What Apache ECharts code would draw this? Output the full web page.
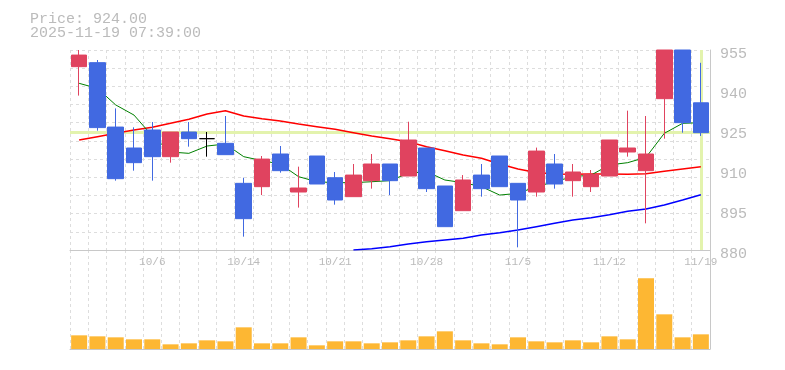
<!DOCTYPE html>
<html><head><meta charset="utf-8">
<script src="https://cdn.jsdelivr.net/npm/echarts@6/dist/echarts.min.js"></script>
<style>html,body{margin:0;padding:0;background:#fff}#c{width:785px;height:370px}</style>
</head><body><div id="c"></div>
<script>
const dates = ['9/30','10/1','10/2','10/3','10/6','10/7','10/8','10/9','10/10','10/14','10/15','10/16','10/17','10/20','10/21','10/22','10/23','10/24','10/27','10/28','10/29','10/30','10/31','11/4','11/5','11/6','11/7','11/10','11/11','11/12','11/13','11/14','11/17','11/18','11/19'];
const opens  = [948.75,950.25,926.1,918.25,925,915,924.25,921.75,920,905,903.75,916,901.75,915.25,907.1,900,906,912.25,907.75,918.25,904,894.75,908.1,915.25,905,901.75,912.25,906,903.75,907.75,916.75,909.75,936.75,955,935.2];
const closes = [953.1,925.9,906.75,912.75,915,924.25,921.75,921.75,915.75,891.75,914.1,909.75,903.25,904.75,898.75,908.1,912.25,906,921.25,903,888.75,906.25,903,903.75,898.75,917.1,904.75,909.25,908.4,921.25,918.25,916,955,927.75,924];
const lows   = [937.9,924.75,906,909.75,906,912.75,918.75,915,915.75,885,900.6,909,895.9,904.75,897,900,903,900.6,907.75,901.75,888.75,894.75,900,903.75,881,900,903,900,901.75,907.75,915,890,921.75,924,922.75];
const highs  = [955,951.25,933.1,926,928,924.25,928,924.25,930.25,907.1,915.25,919,911.25,915.25,909.25,912.25,916,912.25,928.1,918.25,904,908.1,912.25,915.25,905,918.4,916,912.25,910,921.25,932.25,930.25,955,955,950.2];
const ma5  = [942.5,940.6,934.4,930.6,922.75,916.75,916.25,919,919.75,915,913.5,912.25,907.5,905.6,905.25,905.25,905.6,906,908.75,909.4,906.25,905.25,903.75,900.6,901.25,903.75,905.6,907.5,908.1,911.9,912.75,914.75,923.75,927.5,927.75];
const ma25 = [921.25,922.5,923.75,925,926,927.5,929,931,932.25,930.25,929.25,928.4,927.25,926.25,925.25,924,922.75,921.75,920.6,918.75,917.25,915.6,914.4,912.25,910.4,909.1,908.5,908.4,908.5,908.5,908.4,908.6,909.5,910.4,911.25];
const ma75 = [null,null,null,null,null,null,null,null,null,null,null,null,null,null,null,880,880.5,881.25,882.25,883.1,883.75,884.4,885.6,886.5,887.5,888.75,890,891.25,892.1,893.25,894.5,895.4,896.9,898.75,900.75];
const volumes = [41,38,35,29,29,14,17,26,23,65,17,17,35,11,23,23,17,20,26,38,53,26,17,14,35,23,20,26,20,38,29,212,104,35,44];
const yTicks = [880,895,910,925,940,955];
const lastPrice = 924;
const titleLines = ['Price: 924.00','2025-11-19 07:39:00'];

const candleData = opens.map((o,i)=>[o, closes[i], lows[i], highs[i]]);
const FONT = '"Liberation Mono", "DejaVu Sans Mono", monospace';
const AX = '#c8c8c8', GRIDC = '#dddddd', TXT = '#bbbbbb';
const dash = {show:true, interval:0, lineStyle:{color:GRIDC, type:[3,3], width:1}};

const chart = echarts.init(document.getElementById('c'), null, {renderer:'canvas'});
chart.setOption({
  animation:false,
  backgroundColor:'#fff',
  graphic:[
    {type:'text', style:{x:30, y:19, text:titleLines[0], fill:TXT, font:'15px '+FONT, verticalAlign:'middle'}},
    {type:'text', style:{x:30, y:33, text:titleLines[1], fill:TXT, font:'15px '+FONT, verticalAlign:'middle'}}
  ],
  grid:[
    {left:70, right:75, top:50, height:200},
    {left:70, right:75, top:250, height:99}
  ],
  xAxis:[
    {type:'category', gridIndex:0, data:dates, boundaryGap:true,
     axisLine:{show:true, onZero:false, lineStyle:{color:AX}}, axisTick:{show:false},
     axisLabel:{interval:(i)=> (i-4)%5===0, color:TXT, fontFamily:FONT, fontSize:11, margin:7},
     splitLine:dash},
    {type:'category', gridIndex:1, data:dates, boundaryGap:true,
     axisLine:{show:true, onZero:false, lineStyle:{color:AX}}, axisTick:{show:false},
     axisLabel:{show:false}, splitLine:dash}
  ],
  yAxis:[
    {type:'value', gridIndex:0, position:'right', min:880, max:955,
     axisLine:{show:true, onZero:false, lineStyle:{color:AX}}, axisTick:{show:false}, splitLine:{show:false},
     axisLabel:{customValues:yTicks, color:TXT, fontFamily:FONT, fontSize:15, margin:10, verticalAlign:'top', lineHeight:15, padding:[-3,0,0,0]}},
    {type:'value', gridIndex:0, position:'left', min:0, max:11, interval:1,
     axisLine:{show:false}, axisTick:{show:false}, axisLabel:{show:false},
     splitLine:{show:true, lineStyle:{color:GRIDC, type:[3,3], width:1}}},
    {type:'value', gridIndex:1, position:'right', min:0, max:297,
     axisLine:{show:true, onZero:false, lineStyle:{color:AX}}, axisTick:{show:false},
     axisLabel:{show:false}, splitLine:{show:false}}
  ],
  series:[
    {name:'MA25', type:'line', xAxisIndex:0, yAxisIndex:0, data:ma25, symbol:'none', z:1,
     lineStyle:{color:'#ff0000', width:1.5}, silent:true,
     markLine:{z:0, silent:true, symbol:['none','none'], label:{show:false},
       lineStyle:{color:'#e3f3ad', width:3, type:'solid'},
       data:[{yAxis:lastPrice},{xAxis:dates[dates.length-1]}]}},
    {name:'MA75', type:'line', xAxisIndex:0, yAxisIndex:0, data:ma75, symbol:'none', z:1,
     lineStyle:{color:'#0000ff', width:1.5}, silent:true},
    {name:'MA5', type:'line', xAxisIndex:0, yAxisIndex:0, data:ma5, symbol:'none', z:1,
     lineStyle:{color:'#008000', width:1}, silent:true},
    {name:'Price', type:'candlestick', xAxisIndex:0, yAxisIndex:0, data:candleData, barWidth:16, z:3,
     itemStyle:{color:'#e0435f', color0:'#4169e1', borderColor:'#e0435f', borderColor0:'#4169e1', borderColorDoji:'#000000', borderWidth:1}},
    {name:'Volume', type:'bar', xAxisIndex:1, yAxisIndex:2, data:volumes, barWidth:16,
     itemStyle:{color:'#fdb733'}}
  ]
});
</script></body></html>
